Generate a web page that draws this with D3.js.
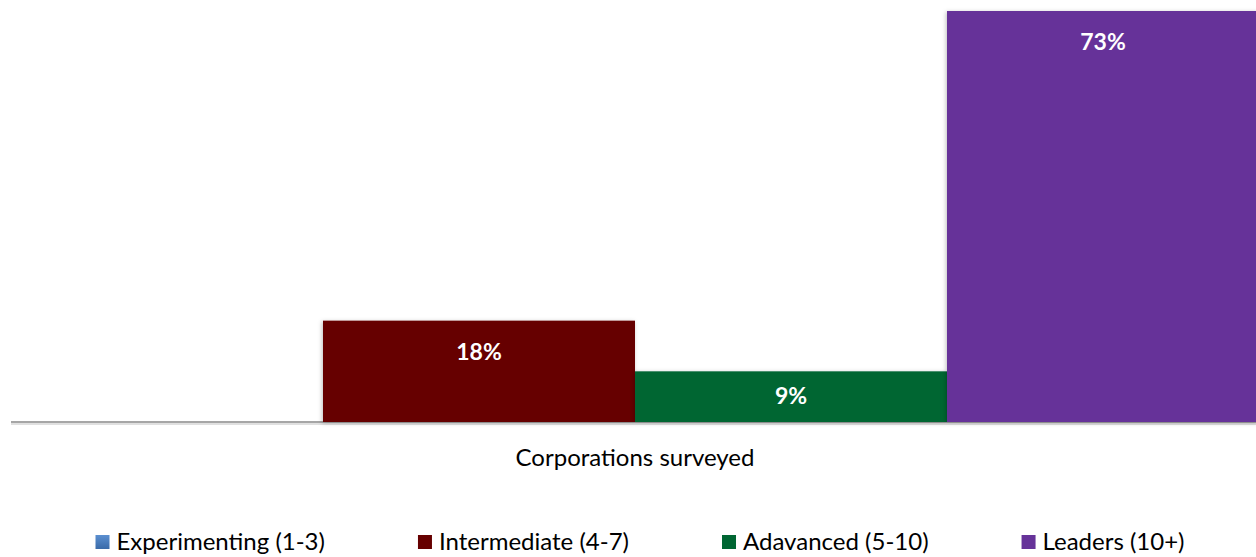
<!DOCTYPE html>
<html><head><meta charset="utf-8">
<script src="https://cdn.jsdelivr.net/npm/d3@7"></script>
<style>body{margin:0;background:#fff}svg{display:block}</style>
</head><body>
<svg id="c" width="1256" height="557"></svg>
<script>
const categories = ["Corporations surveyed"];
const seriesNames = ["Experimenting (1-3)", "Intermediate (4-7)", "Adavanced (5-10)", "Leaders (10+)"];
const seriesValues = [0, 18, 9, 73];
const seriesColors = ["#4a7ebb", "#660000", "#006633", "#663399"];

const W = 1256, H = 557;
const svg = d3.select("#c");
const font = "Lato, 'Open Sans', sans-serif";

const defs = svg.append("defs");
const f = defs.append("filter").attr("id","sh").attr("x","-10%").attr("y","-10%").attr("width","120%").attr("height","120%");
f.append("feDropShadow").attr("dx",-1).attr("dy",1).attr("stdDeviation",2).attr("flood-color","#000").attr("flood-opacity",0.25);
const g1 = defs.append("linearGradient").attr("id","gb").attr("x1",0).attr("y1",0).attr("x2",0).attr("y2",1);
g1.append("stop").attr("offset","0").attr("stop-color","#5b8fd0");
g1.append("stop").attr("offset","1").attr("stop-color","#3a6aa8");

const x0 = d3.scaleBand().domain(categories).range([11, 1259]).paddingInner(0).paddingOuter(0);
const x1 = d3.scaleBand().domain(seriesNames).range([0, x0.bandwidth()]).padding(0);
const y = d3.scaleLinear().domain([0, 73]).range([422, 11]);

const data = seriesNames.map((s, i) => ({name: s, value: seriesValues[i], color: seriesColors[i]}));

// axis (drawn first, bars on top)
const axis = d3.axisBottom(x0).tickSize(0).tickPadding(0);
const ax = svg.append("g").attr("transform", `translate(0,${y(0)})`).call(axis);
ax.select(".domain").attr("d", `M11,0H${W}`).attr("stroke", "#a6a6a6").attr("stroke-width", 2);
ax.insert("path", ".domain").attr("d", `M11,2H${W}`).attr("stroke", "#000").attr("stroke-opacity", 0.12).attr("stroke-width", 2).attr("fill","none");
ax.selectAll(".tick text")
  .attr("x", 635 - x0(categories[0]) - x0.bandwidth()/2)
  .attr("y", 44).attr("dy", 0)
  .attr("font-family", font).attr("font-size", 24).attr("fill", "#000");

const g = svg.append("g");
categories.forEach(cat => {
  const cg = g.append("g").attr("transform", `translate(${x0(cat)},0)`);
  cg.selectAll("rect").data(data.filter(d => d.value > 0)).join("rect")
    .attr("x", d => x1(d.name))
    .attr("y", d => y(d.value))
    .attr("width", x1.bandwidth())
    .attr("height", d => y(0) - y(d.value))
    .attr("fill", d => d.color)
    .attr("filter", "url(#sh)");
  cg.selectAll("text").data(data.filter(d => d.value > 0)).join("text")
    .attr("x", d => x1(d.name) + x1.bandwidth() / 2)
    .attr("y", d => Math.min(y(d.value) + 39, (y(d.value) + y(0)) / 2 + 7))
    .attr("text-anchor", "middle")
    .attr("fill", "#fff")
    .attr("font-family", font)
    .attr("font-weight", "bold")
    .attr("font-size", 23)
    .text(d => d.value + "%");
});

// legend
const lg = svg.append("g");
const items = lg.selectAll("g").data(data).join("g");
items.append("rect").attr("width", 14).attr("height", 14).attr("y", 535)
  .attr("fill", (d, i) => i === 0 ? "url(#gb)" : d.color);
items.append("text").attr("x", 21).attr("y", 550)
  .attr("font-family", font).attr("font-size", 24).attr("fill", "#000")
  .text(d => d.name);
let widths = [];
items.each(function(){ widths.push(this.querySelector("text").getComputedTextLength() + 21); });
const gap = 93;
const total = d3.sum(widths) + gap * (widths.length - 1);
let cx = 640 - total / 2;
items.attr("transform", (d, i) => { const t = `translate(${cx},0)`; cx += widths[i] + gap; return t; });
</script>
</body></html>
